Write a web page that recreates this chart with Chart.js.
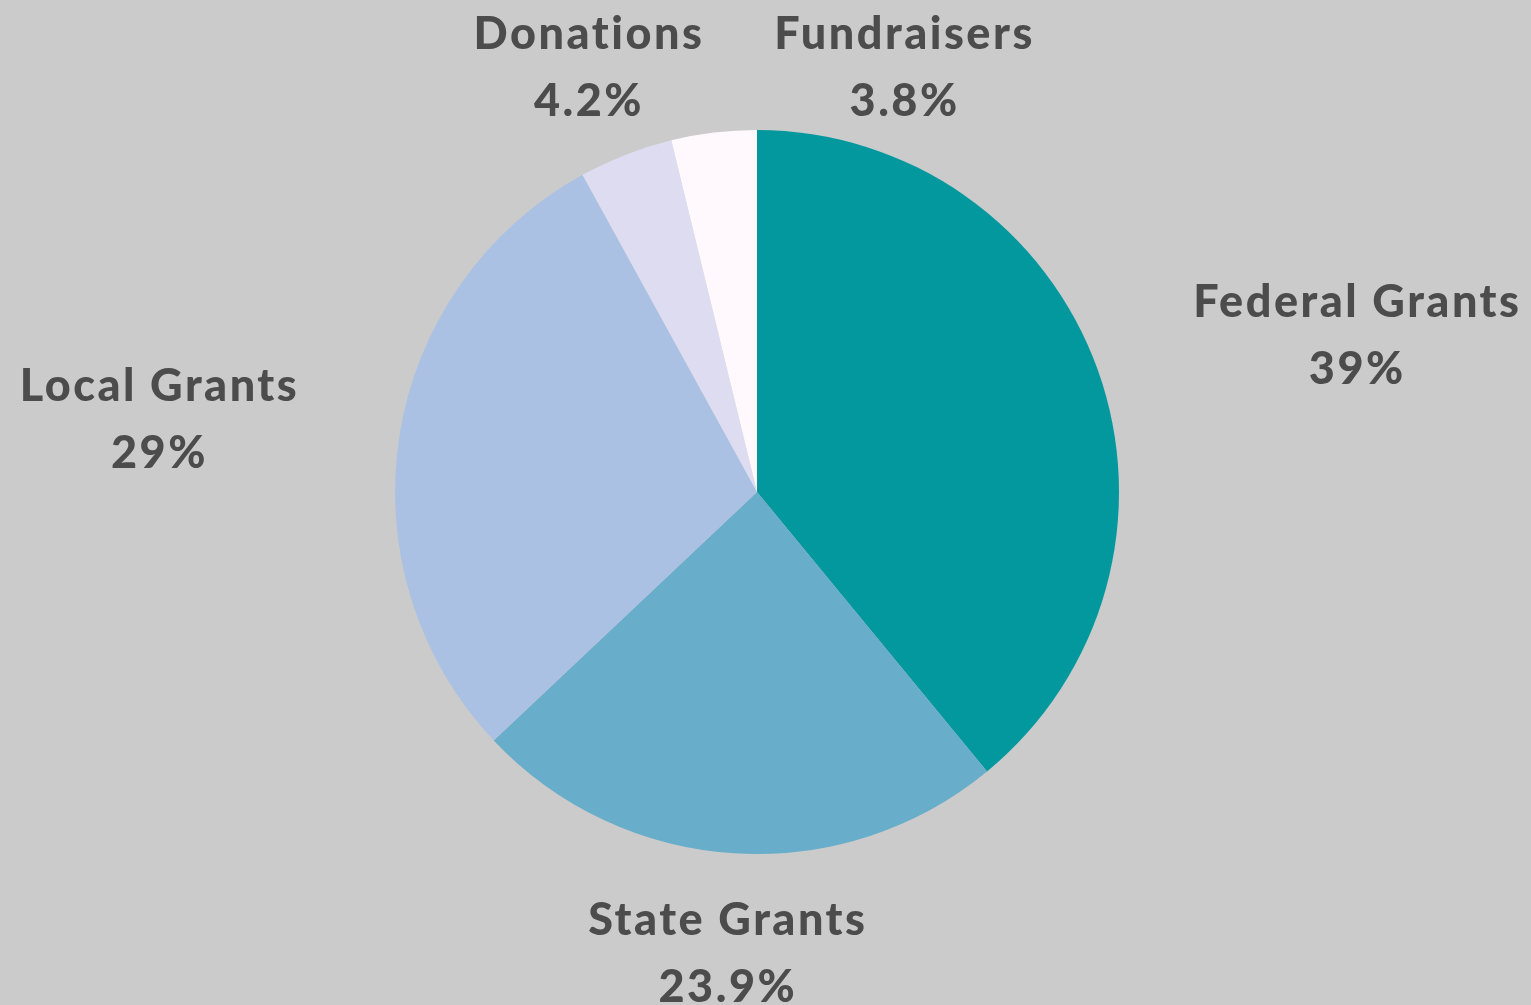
<!DOCTYPE html>
<html>
<head>
<meta charset="utf-8">
<title>Funding sources</title>
<script src="https://cdn.jsdelivr.net/npm/chart.js@4.4.0/dist/chart.umd.min.js"></script>
<style>
body { margin: 0; background: #cbcbcb; }
#wrap { width: 1531px; height: 1005px; position: relative; }
</style>
</head>
<body>
<div id="wrap"><canvas id="fundingPie"></canvas></div>
<script>
// slices, clockwise from 12 o'clock
var sources = ["Federal Grants", "State Grants", "Local Grants", "Donations", "Fundraisers"];
var shares = [39, 23.9, 29, 4.2, 3.8];
var sliceColors = ["#03989e", "#68adc9", "#abc1e3", "#dddcf0", "#fff8fd"];

var labelFont = "900 45px Lato";
var lineGap = 67;

// labels sit outside the pie, anchored on a ring just past the edge
var outLabels = {
id: 'outLabels',
afterDatasetsDraw: function(chart) {
	var ctx = chart.ctx;
	var meta = chart.getDatasetMeta(0);
	ctx.save();
	ctx.font = labelFont;
	ctx.letterSpacing = '2.5px';
	ctx.fillStyle = '#4c4c4c';
	ctx.textAlign = 'center';
	ctx.textBaseline = 'middle';
	var h = lineGap + 40;

	var boxes = meta.data.map(function(arc, i) {
		var p = arc.getProps(['x', 'y', 'startAngle', 'endAngle', 'outerRadius'], true);
		var mid = (p.startAngle + p.endAngle) / 2;
		var r = p.outerRadius * 1.28;
		var ax = p.x + Math.cos(mid) * r;
		var ay = p.y + Math.sin(mid) * r;
		var lines = [sources[i], shares[i] + '%'];
		var w = Math.max(ctx.measureText(lines[0]).width, ctx.measureText(lines[1]).width);
		var cx = ax;
		if (Math.cos(mid) > 0.5) cx = ax + w / 2;
		else if (Math.cos(mid) < -0.5) cx = ax - w / 2;
		var cy = Math.max(ay, 14 + h / 2);
		return { lines: lines, w: w, cx: cx, cy: cy };
	});

	// nudge clashing neighbours apart
	for (var i = 1; i < boxes.length; i++) {
		var a = boxes[i - 1], b = boxes[i];
		if (Math.abs(a.cy - b.cy) < h) {
			var need = (a.w + b.w) / 2 + 70;
			if (Math.abs(b.cx - a.cx) < need) b.cx = a.cx + need;
		}
	}

	boxes.forEach(function(b) {
		ctx.fillText(b.lines[0], b.cx, b.cy - lineGap / 2);
		ctx.fillText(b.lines[1], b.cx, b.cy + lineGap / 2);
	});
	ctx.restore();
}
};

var pieConfig = {
type: 'pie',
data: {
	labels: sources,
	datasets: [{
		data: shares,
		backgroundColor: sliceColors,
		borderWidth: 0
	}]
},
options: {
	responsive: true,
	maintainAspectRatio: false,
	animation: false,
	events: [],
	layout: { padding: { top: 130, bottom: 151, left: 0, right: 17 } },
	plugins: {
		legend: { display: false },
		tooltip: { enabled: false }
	}
},
plugins: [outLabels]
};

var pieCtx = document.getElementById("fundingPie").getContext("2d");
window.fundingPie = new Chart(pieCtx, pieConfig);
</script>
</body>
</html>
